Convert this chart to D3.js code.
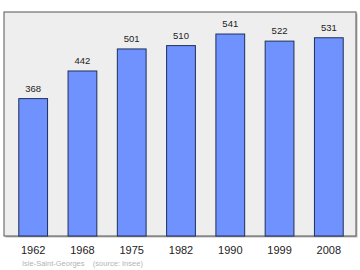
<!DOCTYPE html>
<html>
<head>
<meta charset="utf-8">
<script src="https://cdn.jsdelivr.net/npm/d3@7"></script>
<style>
  body { margin: 0; background: #fff; }
  svg { display: block; font-family: "Liberation Sans", Arial, sans-serif; }
</style>
</head>
<body>
<div id="graph"></div>
<script>
// data
const years = ['1962', '1968', '1975', '1982', '1990', '1999', '2008'];
const population = [368, 442, 501, 510, 541, 522, 531];
const source = 'Isle-Saint-Georges    (source: Insee)';

let width = 360;
let height = 270;

let svg = d3.select('#graph').append('svg').attr('width', width).attr('height', height);

// plot frame
let frameL = 4, frameT = 12, frameR = 356, frameB = 236;

svg.append('rect')
  .attr('x', frameL + 1.5).attr('y', frameT + 1.5)
  .attr('width', frameR - frameL).attr('height', frameB - frameT)
  .attr('fill', '#bbb');

svg.append('rect')
  .attr('x', frameL).attr('y', frameT)
  .attr('width', frameR - frameL).attr('height', frameB - frameT)
  .attr('fill', '#eeeeee')
  .attr('stroke', '#555').attr('stroke-width', 1);

let x = d3.scaleBand()
  .domain(years)
  .range([frameL, frameR + 2])
  .paddingInner(0.416)
  .paddingOuter(0.3);

let y = d3.scaleLinear()
  .domain([0, 600])
  .range([frameB, frameT]);

let bars = svg.selectAll('.bar')
  .data(population)
  .enter()
  .append('g')
  .attr('class', 'bar');

bars.append('rect')
  .attr('x', (d, i) => x(years[i]))
  .attr('y', d => y(d))
  .attr('width', x.bandwidth())
  .attr('height', d => y(0) - y(d))
  .attr('fill', '#7092ff')
  .attr('stroke', '#1e2f5a')
  .attr('stroke-width', 1);

bars.append('text')
  .attr('x', (d, i) => x(years[i]) + x.bandwidth() / 2)
  .attr('y', d => y(d) - 7)
  .attr('text-anchor', 'middle')
  .attr('font-size', '9.5px')
  .attr('fill', '#222')
  .text(d => d);

// year labels
let xAxis = d3.axisBottom(x).tickSize(0).tickPadding(0);
let axisG = svg.append('g')
  .attr('transform', 'translate(0,' + (frameB + 10) + ')')
  .call(xAxis);
axisG.select('.domain').remove();
axisG.selectAll('text')
  .attr('font-size', '11px')
  .attr('fill', '#222')
  .attr('dy', '0.71em')
  .attr('font-family', '"Liberation Sans", Arial, sans-serif');

svg.append('text')
  .attr('x', 22)
  .attr('y', 266)
  .attr('font-size', '7.5px')
  .attr('fill', '#b4b4b4')
  .attr('xml:space', 'preserve')
  .style('white-space', 'pre')
  .text(source);
</script>
</body>
</html>
